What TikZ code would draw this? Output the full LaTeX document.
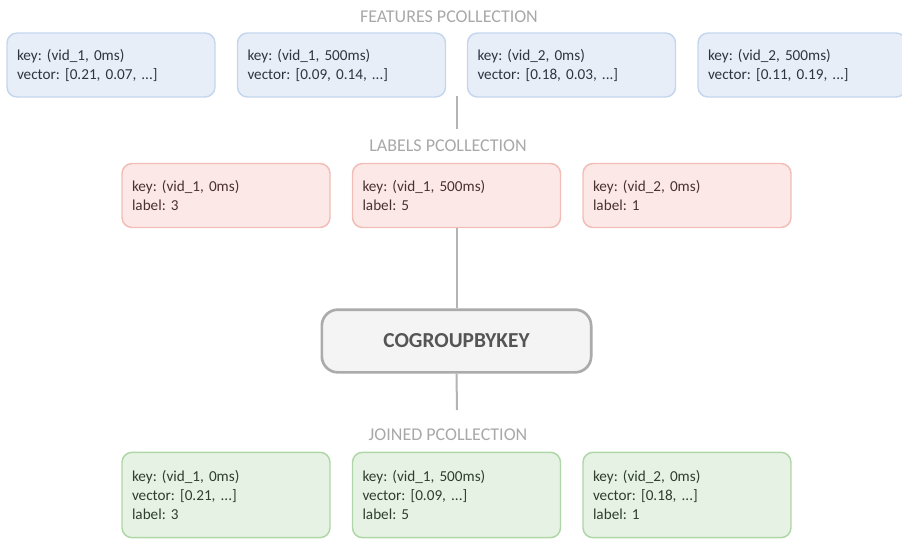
\documentclass[tikz,border=0pt]{standalone}
\usepackage{fontspec}
\setmainfont{Carlito}
\frenchspacing
\definecolor{featfill}{HTML}{E8EEF8}
\definecolor{featline}{HTML}{C4D6EE}
\definecolor{feattext}{HTML}{2E3440}
\definecolor{labfill}{HTML}{FCE9E7}
\definecolor{labline}{HTML}{F1BDB6}
\definecolor{labtext}{HTML}{4A3030}
\definecolor{joinfill}{HTML}{E6F2E3}
\definecolor{joinline}{HTML}{AED6A6}
\definecolor{jointext}{HTML}{2F3E2F}
\definecolor{opfill}{HTML}{F4F4F4}
\definecolor{opline}{HTML}{ABABAB}
\definecolor{optext}{HTML}{555555}
\definecolor{titlegray}{HTML}{A8A8A8}
\definecolor{wire}{HTML}{B4B4B4}
\tikzset{
  record/.style={rounded corners=7.5pt, line width=1.1pt, inner xsep=7.5pt,
    text width=141pt, align=left, minimum height=48pt,
    font=\fontsize{11.4}{14.25}\selectfont},
  featbox/.style={record, draw=featline, fill=featfill, text=feattext},
  labbox/.style={record, draw=labline, fill=labfill, text=labtext},
  joinbox/.style={record, draw=joinline, fill=joinfill, text=jointext, minimum height=64pt},
  opbox/.style={rounded corners=12pt, line width=2pt, draw=opline, fill=opfill,
    text=optext, minimum width=202pt, minimum height=47pt,
    font=\fontsize{16}{19}\selectfont\bfseries},
  colltitle/.style={text=titlegray, font=\fontsize{13.5}{16}\selectfont},
  wireline/.style={draw=wire, line width=1.5pt}
}
\begin{document}
\begin{tikzpicture}[x=0.75pt, y=-0.75pt]
\useasboundingbox (0,0) rectangle (902,539);

% features
\node[colltitle] (ftitle) at (449,17) {FEATURES PCOLLECTION};
\node[featbox] (f1) at (111,65) {key: (vid\_1, 0ms)\\vector: [0.21, 0.07, ...]};
\node[featbox] (f2) at (341.5,65) {key: (vid\_1, 500ms)\\vector: [0.09, 0.14, ...]};
\node[featbox] (f3) at (571.5,65) {key: (vid\_2, 0ms)\\vector: [0.18, 0.03, ...]};
\node[featbox] (f4) at (802,65) {key: (vid\_2, 500ms)\\vector: [0.11, 0.19, ...]};

% labels
\node[colltitle] (ltitle) at (448,146) {LABELS PCOLLECTION};
\node[labbox] (l1) at (226,195.5) {key: (vid\_1, 0ms)\\label: 3};
\node[labbox] (l2) at (456.5,195.5) {key: (vid\_1, 500ms)\\label: 5};
\node[labbox] (l3) at (687,195.5) {key: (vid\_2, 0ms)\\label: 1};

% join step
\node[opbox] (op) at (456.5,341) {COGROUPBYKEY};

% joined output
\node[colltitle] (jtitle) at (448,435) {JOINED PCOLLECTION};
\node[joinbox] (j1) at (226,495) {key: (vid\_1, 0ms)\\vector: [0.21, ...]\\label: 3};
\node[joinbox] (j2) at (456.5,495) {key: (vid\_1, 500ms)\\vector: [0.09, ...]\\label: 5};
\node[joinbox] (j3) at (687,495) {key: (vid\_2, 0ms)\\vector: [0.18, ...]\\label: 1};

% connectors
\coordinate (ftop) at (457,96);
\coordinate (fbot) at (457,129);
\draw[wireline] (ftop) -- (fbot);
\draw[wireline] (l2.south) -- (op.north);
\coordinate (obot) at (457,410);
\draw[wireline] (op.south) -- (obot);
\end{tikzpicture}
\end{document}
